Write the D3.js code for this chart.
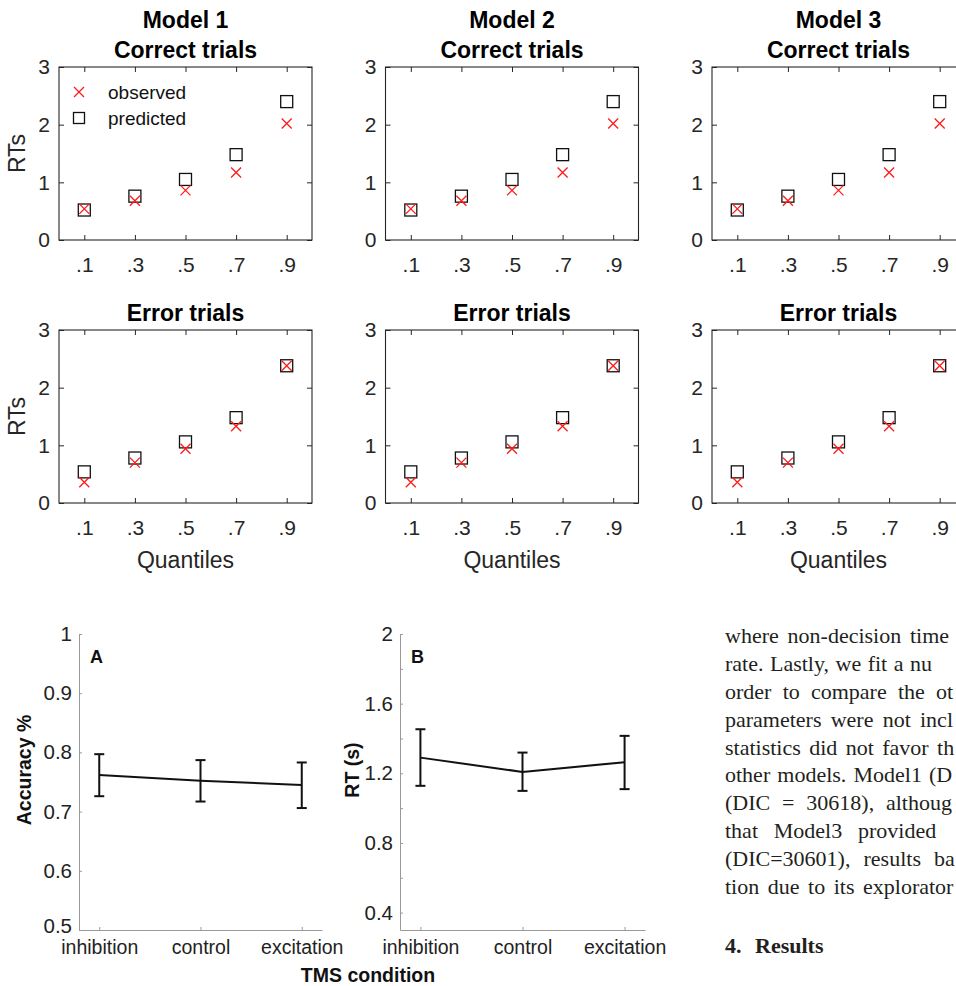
<!DOCTYPE html>
<html>
<head>
<meta charset="utf-8">
<script src="https://cdn.jsdelivr.net/npm/d3@7"></script>
<style>
  html, body { margin: 0; padding: 0; background: #fff; }
  svg { display: block; }
</style>
</head>
<body>
<script>
// ---------------- DATA ----------------
const quantiles = [0.1, 0.3, 0.5, 0.7, 0.9];
const quantileLabels = [".1", ".3", ".5", ".7", ".9"];
const rtTicks = [0, 1, 2, 3];
const models = ["Model 1", "Model 2", "Model 3"];
const seriesNames = ["observed", "predicted"];

const correctObserved  = [0.54, 0.68, 0.86, 1.17, 2.02];
const correctPredicted = [0.52, 0.76, 1.05, 1.48, 2.40];
const errorObserved    = [0.36, 0.70, 0.94, 1.33, 2.38];
const errorPredicted   = [0.54, 0.78, 1.06, 1.48, 2.38];

const conditions = ["inhibition", "control", "excitation"];
const accuracyMean  = [0.762, 0.752, 0.745];
const accuracyLower = [0.726, 0.717, 0.706];
const accuracyUpper = [0.797, 0.787, 0.783];
const accuracyTicks = [0.5, 0.6, 0.7, 0.8, 0.9, 1];
const accuracyTickLabels = ["0.5", "0.6", "0.7", "0.8", "0.9", "1"];

const rtMean  = [1.290, 1.208, 1.264];
const rtLower = [1.128, 1.099, 1.109];
const rtUpper = [1.453, 1.319, 1.415];
const rtSecTicks = [0.4, 0.6, 0.8, 1.0, 1.2, 1.4, 1.6, 1.8, 2.0];
const rtSecTickLabels = ["0.4", "", "0.8", "", "1.2", "", "1.6", "", "2"];

const textLines = [
  "where non-decision time",
  "rate. Lastly, we fit a nu",
  "order to compare the ot",
  "parameters were not incl",
  "statistics did not favor th",
  "other models. Model1 (D",
  "(DIC = 30618), althoug",
  "that Model3 provided",
  "(DIC=30601), results ba",
  "tion due to its explorator"
];
const lastWordX = [910, 910, 936, 920, 937, 929, 886, 858, 934, 863];

// ---------------- SETUP ----------------
const W = 956, H = 986;
const svg = d3.select("body").append("svg").attr("width", W).attr("height", H);
const SANS = "'Liberation Sans', Arial, Helvetica, sans-serif";
const AX = "#262626";

// ---------------- QUANTILE PANELS ----------------
const panelW = 253, panelH = 173;
const panelLefts = [59, 385.5, 712];
const rowTops = [67, 330];

function drawQuantPanel(left, top, titles, observed, predicted, opts) {
  const g = svg.append("g").attr("transform", `translate(${left},${top})`);
  const x = d3.scaleLinear().domain([0, 1]).range([0, panelW]);
  const y = d3.scaleLinear().domain([0, 3]).range([panelH, 0]);

  const bottom = g.append("g").attr("transform", `translate(0,${panelH})`)
    .call(d3.axisBottom(x).tickValues(quantiles).tickFormat((d, i) => quantileLabels[i])
      .tickSizeInner(-5).tickSizeOuter(0).tickPadding(17));
  const leftAx = g.append("g")
    .call(d3.axisLeft(y).tickValues(rtTicks).tickFormat(d3.format("d"))
      .tickSizeInner(-5).tickSizeOuter(0).tickPadding(9));
  const topAx = g.append("g")
    .call(d3.axisTop(x).tickValues(quantiles).tickFormat("").tickSizeInner(-5).tickSizeOuter(0));
  const rightAx = g.append("g").attr("transform", `translate(${panelW},0)`)
    .call(d3.axisRight(y).tickValues(rtTicks).tickFormat("").tickSizeInner(-5).tickSizeOuter(0));
  [bottom, leftAx, topAx, rightAx].forEach(a => {
    a.select(".domain").remove();
    a.selectAll("line").attr("stroke", AX).attr("stroke-width", 1);
    a.selectAll("text").attr("font-family", SANS).attr("font-size", 21).attr("fill", AX);
  });
  g.append("rect").attr("x", 0).attr("y", 0).attr("width", panelW).attr("height", panelH)
    .attr("fill", "none").attr("stroke", AX).attr("stroke-width", 1.1);

  const sq = 12;
  g.selectAll("rect.pred").data(predicted).join("rect").attr("class", "pred")
    .attr("x", (d, i) => x(quantiles[i]) - sq / 2).attr("y", d => y(d) - sq / 2)
    .attr("width", sq).attr("height", sq)
    .attr("fill", "none").attr("stroke", "#111").attr("stroke-width", 1.3);
  const c = 5;
  g.selectAll("path.obs").data(observed).join("path").attr("class", "obs")
    .attr("d", (d, i) => {
      const cx = x(quantiles[i]), cy = y(d);
      return `M${cx - c},${cy - c}L${cx + c},${cy + c}M${cx - c},${cy + c}L${cx + c},${cy - c}`;
    })
    .attr("stroke", "#ff1a1a").attr("stroke-width", 1.3).attr("fill", "none");

  titles.forEach(t => {
    g.append("text").attr("x", panelW / 2).attr("y", t.y - top)
      .attr("text-anchor", "middle").attr("font-family", SANS).attr("font-weight", "bold")
      .attr("font-size", 23).attr("fill", "#000").text(t.text);
  });

  if (opts.yLabel) {
    g.append("text").attr("transform", `translate(${25 - left},${panelH / 2}) rotate(-90)`)
      .attr("text-anchor", "middle").attr("font-family", SANS).attr("font-size", 23)
      .attr("fill", AX).text("RTs");
  }
  if (opts.xLabel) {
    g.append("text").attr("x", panelW / 2).attr("y", panelH + 65)
      .attr("text-anchor", "middle").attr("font-family", SANS).attr("font-size", 23)
      .attr("fill", AX).text("Quantiles");
  }
  if (opts.legend) {
    const lg = g.append("g").attr("transform", "translate(20,25)");
    lg.append("path")
      .attr("d", `M${-c},${-c}L${c},${c}M${-c},${c}L${c},${-c}`)
      .attr("stroke", "#ff1a1a").attr("stroke-width", 1.3);
    lg.append("rect").attr("x", -sq / 2 + 0.5).attr("y", 26 - sq / 2 + 0.5)
      .attr("width", sq - 1).attr("height", sq - 1)
      .attr("fill", "none").attr("stroke", "#111").attr("stroke-width", 1.3);
    seriesNames.forEach((s, i) => {
      lg.append("text").attr("x", 29).attr("y", i * 26).attr("dy", "0.35em")
        .attr("font-family", SANS).attr("font-size", 19).attr("fill", "#111").text(s);
    });
  }
}

models.forEach((m, k) => {
  drawQuantPanel(panelLefts[k], rowTops[0],
    [{ text: m, y: 28 }, { text: "Correct trials", y: 58 }],
    correctObserved, correctPredicted,
    { yLabel: k === 0, xLabel: false, legend: k === 0 });
  drawQuantPanel(panelLefts[k], rowTops[1],
    [{ text: "Error trials", y: 321 }],
    errorObserved, errorPredicted,
    { yLabel: k === 0, xLabel: true, legend: false });
});

// ---------------- BOTTOM PANELS (A, B) ----------------
const GRAY = "#9a9a9a";
function drawCondPanel(axLeft, axRight, yDomain, yTicks, yTickLabels, mean, lo, hi, letter, yLabel, yLabelX) {
  const top = 634, bot = 930;
  const x = d3.scaleLinear().domain([0.8, 3.2]).range([axLeft, axRight]);
  const y = d3.scaleLinear().domain(yDomain).range([bot, top]);
  const g = svg.append("g");

  const xa = g.append("g").attr("transform", `translate(0,${bot})`)
    .call(d3.axisBottom(x).tickValues([1, 2, 3]).tickFormat(d => conditions[d - 1])
      .tickSizeInner(-3).tickSizeOuter(0).tickPadding(10));
  const ya = g.append("g").attr("transform", `translate(${axLeft},0)`)
    .call(d3.axisLeft(y).tickValues(yTicks).tickFormat((d, i) => yTickLabels[i])
      .tickSizeInner(-3).tickSizeOuter(0).tickPadding(7));
  [xa, ya].forEach(a => {
    a.select(".domain").attr("stroke", GRAY).attr("stroke-width", 1);
    a.selectAll("line").attr("stroke", GRAY);
    a.selectAll("text").attr("font-family", SANS).attr("font-size", 19.5).attr("fill", "#222");
  });
  ya.selectAll("text").attr("font-size", 20.5)
    .attr("dy", d => d === yDomain[0] || Math.abs(d - 0.5) < 1e-9 && yDomain[0] === 0.5 ? "0.12em" : "0.32em");

  const cap = 5;
  mean.forEach((m, i) => {
    const cx = x(i + 1);
    g.append("line").attr("x1", cx).attr("x2", cx).attr("y1", y(lo[i])).attr("y2", y(hi[i]))
      .attr("stroke", "#111").attr("stroke-width", 2);
    [lo[i], hi[i]].forEach(v => {
      g.append("line").attr("x1", cx - cap).attr("x2", cx + cap).attr("y1", y(v)).attr("y2", y(v))
        .attr("stroke", "#111").attr("stroke-width", 2);
    });
  });
  g.append("path").datum(mean)
    .attr("d", d3.line().x((d, i) => x(i + 1)).y(d => y(d)))
    .attr("fill", "none").attr("stroke", "#111").attr("stroke-width", 2);

  g.append("text").attr("x", axLeft + 11).attr("y", 663)
    .attr("font-family", SANS).attr("font-weight", "bold").attr("font-size", 18)
    .attr("fill", "#111").text(letter);
  g.append("text").attr("transform", `translate(${yLabelX},${(top + bot) / 2 - 12}) rotate(-90)`)
    .attr("text-anchor", "middle").attr("font-family", SANS).attr("font-weight", "bold")
    .attr("font-size", 19.5).attr("fill", "#111").text(yLabel);
}

drawCondPanel(79, 322, [0.5, 1], accuracyTicks, accuracyTickLabels,
  accuracyMean, accuracyLower, accuracyUpper, "A", "Accuracy %", 31);
drawCondPanel(400, 645, [0.3, 2], rtSecTicks, rtSecTickLabels,
  rtMean, rtLower, rtUpper, "B", "RT (s)", 359);

svg.append("text").attr("x", 368).attr("y", 982).attr("text-anchor", "middle")
  .attr("font-family", SANS).attr("font-weight", "bold").attr("font-size", 19.5)
  .attr("fill", "#111").text("TMS condition");

// ---------------- BODY TEXT (right column) ----------------
const SERIF = "'Liberation Serif', 'Times New Roman', serif";
const textX = 725;
textLines.forEach((line, i) => {
  const t = svg.append("text").attr("x", textX).attr("y", 643.3 + i * 27.8)
    .attr("font-family", SERIF).attr("font-size", 22).attr("fill", "#231f20")
    .text(line);
  const words = line.split(" ");
  if (words.length > 1) {
    const idx = line.lastIndexOf(" ") + 1;
    const node = t.node();
    try {
      const p = node.getStartPositionOfChar(idx).x;
      const extra = (lastWordX[i] - p) / (words.length - 1);
      t.attr("word-spacing", extra.toFixed(2));
    } catch (e) {}
  }
});
const res = svg.append("text").attr("y", 953.3).attr("font-family", SERIF)
  .attr("font-weight", "bold").attr("font-size", 22).attr("fill", "#231f20");
res.append("tspan").attr("x", textX).text("4.");
res.append("tspan").attr("x", 755).text("Results");
</script>
</body>
</html>
